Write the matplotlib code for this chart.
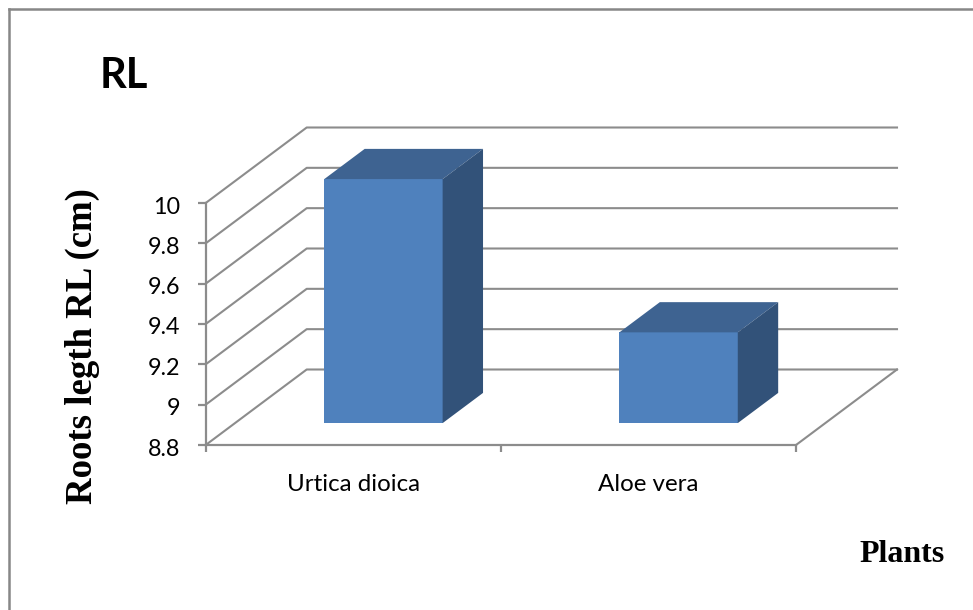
import matplotlib.pyplot as plt
from matplotlib.lines import Line2D
from matplotlib.transforms import ScaledTranslation

categories = ["Urtica dioica", "Aloe vera"]
rl_values = [10.01, 9.25]
y_ticks = [8.8, 9.0, 9.2, 9.4, 9.6, 9.8, 10.0]
y_tick_labels = ["8.8", "9", "9.2", "9.4", "9.6", "9.8", "10"]

GRID = "#8c8c8c"
FRONT = "#4f81bd"
SIDE = "#325279"
TOP = "#3e6391"

W, H = 973, 610
# plot box in pixels
LEFT, RIGHT, BOTTOM, TOP_PX = 205.7, 796, 445, 203
# oblique shift of the back wall, in data units
DEPTH_X = 101 / ((RIGHT - LEFT) / 2)
DEPTH_Y = 75.5 / ((BOTTOM - TOP_PX) / 1.2)
BAR_W = 0.401
BAR_CENTRE = 0.503
BAR_START = 0.29
BAR_DEPTH = 0.4


def shift(x, y, d):
    return x + d * DEPTH_X, y + d * DEPTH_Y


fig = plt.figure(figsize=(W / 100, H / 100), dpi=100, facecolor="white")
ax = fig.add_axes([LEFT / W, 1 - BOTTOM / H, (RIGHT - LEFT) / W, (BOTTOM - TOP_PX) / H])
ax.set_xlim(0, 2)
ax.set_ylim(8.8, 10)
ax.patch.set_visible(False)

for s in ["top", "right"]:
    ax.spines[s].set_visible(False)
for s in ["left", "bottom"]:
    ax.spines[s].set_color(GRID)
    ax.spines[s].set_linewidth(1.6)

# side wall diagonals and back wall lines
for v in y_ticks:
    x1, y1 = shift(0, v, 1)
    ax.plot([0, x1, 2 + DEPTH_X], [v, y1, y1], color=GRID, lw=1.5, clip_on=False, zorder=1)
ax.plot([2, 2 + DEPTH_X], [8.8, 8.8 + DEPTH_Y], color=GRID, lw=1.5, clip_on=False, zorder=1)

# 3-D columns: front, top and side faces
for i, v in enumerate(rl_values):
    x0 = i + BAR_CENTRE - BAR_W / 2
    x1 = x0 + BAR_W
    x0, y0 = shift(x0, 8.8, BAR_START)
    x1, _ = shift(x1, 8.8, BAR_START)
    ytop = y0 + (v - 8.8)
    dx = BAR_DEPTH * DEPTH_X
    dy = BAR_DEPTH * DEPTH_Y
    ax.fill([x0, x1, x1, x0], [y0, y0, ytop, ytop], color=FRONT, lw=0, clip_on=False, zorder=3)
    ax.fill([x0, x1, x1 + dx, x0 + dx], [ytop, ytop, ytop + dy, ytop + dy], color=TOP, lw=0, clip_on=False, zorder=3)
    ax.fill([x1, x1 + dx, x1 + dx, x1], [y0, y0 + dy, ytop + dy, ytop], color=SIDE, lw=0, clip_on=False, zorder=3)

ax.set_yticks(y_ticks)
ax.set_yticklabels(y_tick_labels, family="Lato", fontsize=16.8, color="black")
ax.tick_params(axis="y", length=6, width=1.6, color=GRID, pad=12.5)
# nudge the value labels down a little against their ticks
nudge = ScaledTranslation(0, -2 / 100, fig.dpi_scale_trans)
for lab in ax.get_yticklabels():
    lab.set_transform(lab.get_transform() + nudge)
ax.set_xticks([0, 1, 2])
ax.set_xticklabels([])
ax.tick_params(axis="x", length=5, width=1.6, color=GRID)
for i, name in enumerate(categories):
    ax.text(i + 0.5, 8.8 - 40 / 201.7, name, ha="center", va="center", family="Lato", fontsize=17.4, color="black")

# chart frame, only top and left edges are in view
frame = dict(color="#878787", lw=1.8, transform=fig.transFigure)
fig.add_artist(Line2D([9 / W, 9 / W], [0, 1 - 9 / H], **frame))
fig.add_artist(Line2D([9 / W, 1], [1 - 9 / H, 1 - 9 / H], **frame))

fig.text(100 / W, 1 - 76 / H, "RL", family="Lato", fontweight="bold", fontsize=30, va="center", ha="left")
fig.text(82.5 / W, 1 - 346 / H, "Roots legth RL (cm)", family="Liberation Serif", fontweight="bold",
         fontsize=26.5, rotation=90, va="center", ha="center")
fig.text(902 / W, 1 - 554 / H, "Plants", family="Liberation Serif", fontweight="bold",
         fontsize=23, va="center", ha="center")

fig.savefig("out.png", dpi=100)
plt.close(fig)
